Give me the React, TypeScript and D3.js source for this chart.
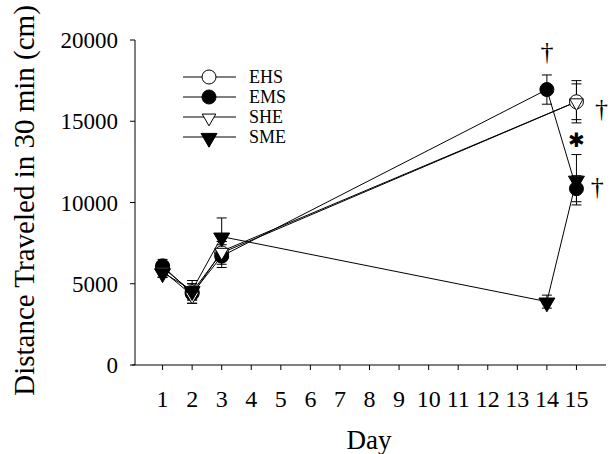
import React from "react";
import * as d3 from "d3";

const W = 616;
const H = 454;
const margin = { top: 40, right: 10, bottom: 89, left: 133 };

const dayTicks = [1, 2, 3, 4, 5, 6, 7, 8, 9, 10, 11, 12, 13, 14, 15];
const yTicks = [0, 5000, 10000, 15000, 20000];

// series values: [day, mean, sem]
const EHS = [[1, 6000, 300], [2, 4500, 500], [3, 6900, 700], [15, 16200, 1100]];
const EMS = [[1, 6100, 400], [2, 4400, 600], [3, 6700, 700], [14, 16950, 900], [15, 10850, 800]];
const SHE = [[1, 5800, 400], [2, 4300, 500], [3, 7000, 600], [15, 16200, 1300]];
const SME = [[1, 5700, 300], [2, 4600, 600], [3, 7900, 1150], [14, 3900, 400], [15, 11400, 1550]];

const seriesNames = ["EHS", "EMS", "SHE", "SME"];
const seriesData = [EHS, EMS, SHE, SME];
const seriesShape = ["circle", "circle", "triangle", "triangle"];
const seriesFilled = [false, true, false, true];

// significance marks: [day, value, symbol]
const marks = [
  [14, 19300, "†"],
  [15.85, 15800, "†"],
  [15, 13850, "✱"],
  [15.7, 11000, "†"],
];

const font = "'Liberation Serif', 'Times New Roman', serif";

const Marker = ({ shape, filled, x, y }) => {
  if (shape === "circle") {
    return <circle cx={x} cy={y} r={7} fill={filled ? "#000" : "#fff"} stroke="#000" strokeWidth={1} />;
  }
  const p = d3.symbol().type(d3.symbolTriangle).size(filled ? 110 : 80)();
  return (
    <path
      d={p}
      transform={`translate(${x},${y + 1}) rotate(180)`}
      fill={filled ? "#000" : "#fff"}
      stroke="#000"
      strokeWidth={1}
    />
  );
};

export default function App() {
  const x = d3.scaleLinear().domain([0, 16]).range([margin.left, W - margin.right]);
  const y = d3.scaleLinear().domain([0, 20000]).range([H - margin.bottom, margin.top]);
  const line = d3
    .line()
    .x((d) => x(d[0]))
    .y((d) => y(d[1]));

  const y0 = y(0);
  const axisX = margin.left + 2;

  return (
    <svg width={W} height={H} style={{ position: "absolute", left: 0, top: 0, background: "#fff" }}>
      {/* y axis */}
      <line x1={axisX} x2={axisX} y1={y(20000)} y2={y0} stroke="#000" />
      {yTicks.map((t) => (
        <g key={t}>
          <line x1={axisX - 5} x2={axisX} y1={y(t)} y2={y(t)} stroke="#000" />
          <text x={118} y={y(t)} dy="0.35em" textAnchor="end" fontFamily={font} fontSize={23}>
            {t}
          </text>
        </g>
      ))}
      {/* x axis */}
      <line x1={margin.left - 1} x2={606} y1={y0} y2={y0} stroke="#000" />
      {dayTicks.map((t) => (
        <g key={t}>
          <line x1={x(t)} x2={x(t)} y1={y0} y2={y0 + 5} stroke="#000" />
          <text x={x(t)} y={407} textAnchor="middle" fontFamily={font} fontSize={24}>
            {t}
          </text>
        </g>
      ))}
      <text x={369} y={449} textAnchor="middle" fontFamily={font} fontSize={27}>
        Day
      </text>
      <text
        transform={`translate(34,${(y(20000) + y0) / 2 - 2}) rotate(-90)`}
        textAnchor="middle"
        fontFamily={font}
        fontSize={29}
      >
        Distance Traveled in 30 min (cm)
      </text>

      {/* lines */}
      {seriesData.map((s, i) => (
        <path key={"l" + i} d={line(s)} fill="none" stroke="#000" strokeWidth={1} />
      ))}
      {/* error bars */}
      {seriesData.map((s, i) =>
        s.map((d, j) => (
          <g key={"e" + i + "-" + j} stroke="#000" strokeWidth={1}>
            <line x1={x(d[0])} x2={x(d[0])} y1={y(d[1] - d[2])} y2={y(d[1] + d[2])} />
            <line x1={x(d[0]) - 5} x2={x(d[0]) + 5} y1={y(d[1] + d[2])} y2={y(d[1] + d[2])} />
            <line x1={x(d[0]) - 5} x2={x(d[0]) + 5} y1={y(d[1] - d[2])} y2={y(d[1] - d[2])} />
          </g>
        ))
      )}
      {/* markers */}
      {seriesData.map((s, i) =>
        s.map((d, j) => (
          <Marker key={"m" + i + "-" + j} shape={seriesShape[i]} filled={seriesFilled[i]} x={x(d[0])} y={y(d[1])} />
        ))
      )}

      {/* significance marks */}
      {marks.map((m, i) => (
        <text
          key={"s" + i}
          x={x(m[0])}
          y={y(m[1])}
          dy="0.35em"
          textAnchor="middle"
          fontFamily={m[2] === "✱" ? "'DejaVu Sans', sans-serif" : font}
          fontSize={m[2] === "✱" ? 20 : 26}
        >
          {m[2]}
        </text>
      ))}

      {/* legend */}
      {seriesNames.map((n, i) => {
        const ly = 77 + i * 20;
        return (
          <g key={"lg" + i}>
            <line x1={183} x2={236} y1={ly} y2={ly} stroke="#000" strokeWidth={1} />
            <Marker shape={seriesShape[i]} filled={seriesFilled[i]} x={209} y={ly} />
            <text x={249} y={ly} dy="0.35em" fontFamily={font} fontSize={18}>
              {n}
            </text>
          </g>
        );
      })}
    </svg>
  );
}
